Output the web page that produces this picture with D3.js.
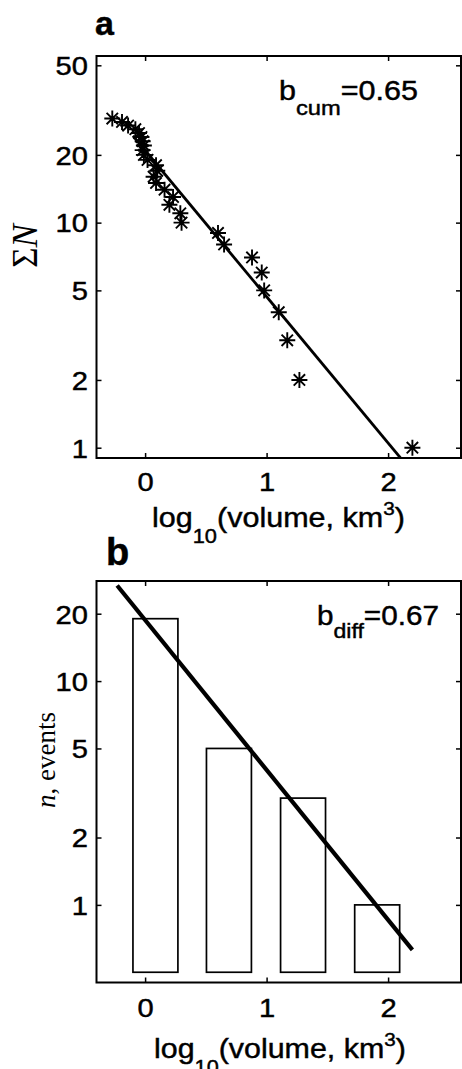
<!DOCTYPE html>
<html>
<head>
<meta charset="utf-8">
<script src="https://cdn.jsdelivr.net/npm/d3@7"></script>
<style>
  html, body { margin: 0; padding: 0; background: #fff; }
  svg { display: block; }
</style>
</head>
<body>
<svg id="fig" width="462" height="1069"></svg>
<script>
// ---- panel a: cumulative number of events vs. log10 volume ----
const cumCount = [29, 28, 27, 26, 25, 24, 23, 22, 21, 20, 19, 18, 17, 16, 15,
                  14, 13, 12, 11, 10, 9, 8, 7, 6, 5, 4, 3, 2, 1];
const cumLogVolume = [-0.27, -0.19, -0.14, -0.08, -0.05, -0.03, -0.02, -0.01, -0.02, -0.01,
                      0.02, 0.09, 0.10, 0.07, 0.09, 0.16, 0.23, 0.20, 0.29, 0.30,
                      0.60, 0.65, 0.88, 0.96, 0.98, 1.10, 1.17, 1.27, 2.20];
const bCum = 0.65;
const cumFitIntercept = 1.321;        // log10(ΣN) at log10(volume) = 0
const cumFitRange = [-0.1, 2.3];

// ---- panel b: number of events per volume bin ----
const binLogVolume = [0.085, 0.69, 1.30, 1.91];
const binCount = [19, 5, 3, 1];
const binWidth = 0.37;
const binBase = 0.5;
const bDiff = 0.67;
const diffFitIntercept = 1.273;       // log10(n) at log10(volume) = 0
const diffFitRange = [-0.23, 2.2];

// ---- ticks ----
const xTicks = [0, 1, 2];
const yTicksA = [1, 2, 5, 10, 20, 50];
const yTicksB = [1, 2, 5, 10, 20];

const SANS = "'Liberation Sans', Arial, Helvetica, sans-serif";
const SERIF = "'Liberation Serif', 'Times New Roman', serif";
const TEXT_WEIGHT = 0.45;   // thin outline so the labels read as heavy as print

const svg = d3.select("#fig");
const left = 96.5, right = 461;
const x = d3.scaleLinear().domain([-0.4, 2.6]).range([left, right]);

const panelA = { top: 56, bottom: 458 };
const panelB = { top: 581, bottom: 982.5 };
const yA = d3.scaleLog().domain([0.9, 55]).range([panelA.bottom, panelA.top]);
const yB = d3.scaleLog().domain([0.45, 28]).range([panelB.bottom, panelB.top]);

const TICK_SX = 1.12;

// stretch a horizontal label so that it spans [x0, x1]
function fitH(t, x0, x1) {
  const b = t.node().getBBox();
  const sx = (x1 - x0) / b.width;
  t.attr("transform", `translate(${x0},0) scale(${sx},1) translate(${-b.x},0)`);
}

function heavy(t) {
  return t.attr("fill", "#000").attr("stroke", "#000").attr("stroke-width", TEXT_WEIGHT);
}

function drawAxes(p, y, yTicks, labelBaseline) {
  const g = svg.append("g");
  const tidy = sel => {
    sel.select(".domain").remove();
    sel.selectAll(".tick line").attr("stroke", "#000").attr("stroke-width", 1.5);
    heavy(sel.selectAll(".tick text").attr("font-family", SANS).attr("font-size", 26));
  };
  const bottom = g.append("g").attr("transform", `translate(0,${p.bottom})`)
    .call(d3.axisBottom(x).tickValues(xTicks).tickSize(-5).tickFormat(d3.format("d")));
  tidy(bottom);
  bottom.selectAll(".tick text").attr("y", labelBaseline - p.bottom).attr("dy", 0)
    .attr("transform", `scale(${TICK_SX},1)`);

  const top = g.append("g").attr("transform", `translate(0,${p.top})`)
    .call(d3.axisTop(x).tickValues(xTicks).tickSize(-5).tickFormat(""));
  tidy(top);

  const l = g.append("g").attr("transform", `translate(${left},0)`)
    .call(d3.axisLeft(y).tickValues(yTicks).tickSize(-5).tickFormat(d3.format("d")));
  tidy(l);
  l.selectAll(".tick text").attr("x", -8.5 / TICK_SX).attr("dy", "0.36em")
    .attr("transform", `scale(${TICK_SX},1)`);

  const r = g.append("g").attr("transform", `translate(${right},0)`)
    .call(d3.axisRight(y).tickValues(yTicks).tickSize(-5).tickFormat(""));
  tidy(r);

  svg.append("rect")
    .attr("x", left).attr("y", p.top)
    .attr("width", right - left).attr("height", p.bottom - p.top)
    .attr("fill", "none").attr("stroke", "#000").attr("stroke-width", 2);
}

function xLabel(baseline, x0, x1) {
  const t = heavy(svg.append("text").attr("y", baseline)
    .attr("font-family", SANS).attr("font-size", 28));
  t.append("tspan").text("log");
  t.append("tspan").attr("font-size", 20).attr("dy", 16).text("10");
  t.append("tspan").attr("dy", -16).text("(volume, km");
  t.append("tspan").attr("font-size", 19).attr("dy", -12).text("3");
  t.append("tspan").attr("dy", 12).text(")");
  fitH(t, x0, x1);
}

function bLabel(baseline, sub, subDy, value, x0, x1) {
  const t = heavy(svg.append("text").attr("y", baseline)
    .attr("font-family", SANS).attr("font-size", 27));
  t.append("tspan").text("b");
  t.append("tspan").attr("font-size", 21).attr("dy", subDy).text(sub);
  t.append("tspan").attr("dy", -subDy).text("=" + value.toFixed(2));
  fitH(t, x0, x1);
}

// ================= panel a =================
svg.append("clipPath").attr("id", "clipA").append("rect")
  .attr("x", left).attr("y", panelA.top)
  .attr("width", right - left).attr("height", panelA.bottom - panelA.top);

drawAxes(panelA, yA, yTicksA, 491);

// fitted power law, log10 N = c - b * log10 V
svg.append("line")
  .attr("clip-path", "url(#clipA)")
  .attr("x1", x(cumFitRange[0])).attr("y1", yA(Math.pow(10, cumFitIntercept - bCum * cumFitRange[0])))
  .attr("x2", x(cumFitRange[1])).attr("y2", yA(Math.pow(10, cumFitIntercept - bCum * cumFitRange[1])))
  .attr("stroke", "#000").attr("stroke-width", 2.8);

const star = "M-8,0H8M0,-8V8M-5.7,-5.7L5.7,5.7M-5.7,5.7L5.7,-5.7";
svg.append("g").selectAll("path")
  .data(cumCount.map((n, i) => ({ n, v: cumLogVolume[i] })))
  .join("path")
  .attr("d", star)
  .attr("transform", d => `translate(${x(d.v)},${yA(d.n)})`)
  .attr("fill", "none").attr("stroke", "#000").attr("stroke-width", 1.9);

heavy(svg.append("text").attr("x", 95).attr("y", 35)
  .attr("font-family", SANS).attr("font-weight", "bold").attr("font-size", 34))
  .text("a");

bLabel(100, "cum", 15, bCum, 279, 418);

const ylA = svg.append("text")
  .attr("transform", "translate(37,246) rotate(-90)")
  .attr("text-anchor", "middle")
  .attr("font-family", SERIF).attr("font-size", 35).attr("fill", "#000");
ylA.append("tspan").text("Σ");
ylA.append("tspan").attr("font-style", "italic").text("N");

xLabel(527, 152, 405);

// ================= panel b =================
drawAxes(panelB, yB, yTicksB, 1017);

svg.append("g").selectAll("rect")
  .data(binCount.map((n, i) => ({ n, v: binLogVolume[i] })))
  .join("rect")
  .attr("x", d => x(d.v - binWidth / 2))
  .attr("width", d => x(d.v + binWidth / 2) - x(d.v - binWidth / 2))
  .attr("y", d => yB(d.n))
  .attr("height", d => yB(binBase) - yB(d.n))
  .attr("fill", "#fff").attr("stroke", "#000").attr("stroke-width", 1.7);

svg.append("line")
  .attr("x1", x(diffFitRange[0])).attr("y1", yB(Math.pow(10, diffFitIntercept - bDiff * diffFitRange[0])))
  .attr("x2", x(diffFitRange[1])).attr("y2", yB(Math.pow(10, diffFitIntercept - bDiff * diffFitRange[1])))
  .attr("stroke", "#000").attr("stroke-width", 4.2);

heavy(svg.append("text").attr("x", 106).attr("y", 565)
  .attr("font-family", SANS).attr("font-weight", "bold").attr("font-size", 38))
  .text("b");

bLabel(625, "diff", 13, bDiff, 317, 439);

const ylB = svg.append("text")
  .attr("transform", "translate(55,760) rotate(-90)")
  .attr("text-anchor", "middle")
  .attr("font-family", SERIF).attr("font-size", 27).attr("fill", "#000");
ylB.append("tspan").attr("font-style", "italic").text("n");
ylB.append("tspan").text(", events");

xLabel(1058, 154, 406);
</script>
</body>
</html>
